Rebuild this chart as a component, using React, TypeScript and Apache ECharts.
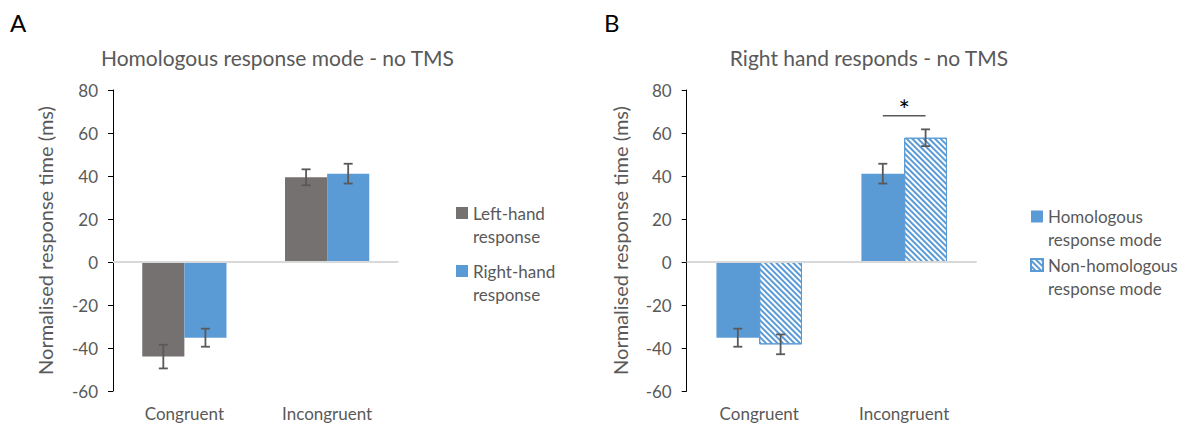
import React, { useEffect, useRef } from "react";
import * as echarts from "echarts";

// Conditions on the category axis
const categories = ["Congruent", "Incongruent"];

// Value axis range (ms)
const yMin = -60;
const yMax = 80;
const yStep = 20;

// Panel A: homologous response mode, no TMS
const leftHandMeans = [-44.0, 39.4];
const leftHandErrors = [5.5, 3.7];
const rightHandMeans = [-35.2, 41.1];
const rightHandErrors = [4.2, 4.6];

// Panel B: right hand responds, no TMS
const homologousMeans = [-35.2, 41.1];
const homologousErrors = [4.2, 4.6];
const nonHomologousMeans = [-38.3, 57.8];
const nonHomologousErrors = [4.6, 3.9];

// Height (ms) of the significance bracket over the Incongruent pair
const significanceLevel = 68;

const FONT = 'Lato, "Liberation Sans", Arial, sans-serif';
const TEXT = "#595959";
const GREY = "#767171";
const BLUE = "#5B9BD5";
const GAP = 0.41;

// Legend icon: a square at the top of a taller box (the trailing move-to only stretches the box),
// so the square lines up with the first line of the two-line label
const LEGEND_ICON = "path://M0,0L12,0L12,12L0,12Z M0,35";

const hatch = {
  symbol: "rect",
  symbolSize: 1,
  dashArrayX: [1, 0],
  dashArrayY: [2, 1.5],
  rotation: Math.PI / 4,
  color: BLUE,
  backgroundColor: "#ffffff",
};

function errorBars(axis: number, means: number[], errors: number[], slot: number) {
  return {
    type: "custom",
    xAxisIndex: axis,
    yAxisIndex: axis,
    silent: true,
    z: 5,
    data: means.map((m, i) => [i, m, errors[i]]),
    encode: { x: 0, y: 1 },
    renderItem: (_params: any, api: any) => {
      const i = api.value(0);
      const m = api.value(1);
      const e = api.value(2);
      const band = api.size([1, 0])[0];
      const barW = (band * (1 - GAP)) / 2;
      const cx = api.coord([i, m])[0] + (slot * barW) / 2;
      const yTop = api.coord([i, m + e])[1];
      const yBot = api.coord([i, m - e])[1];
      const cap = 4.5;
      const style = { stroke: TEXT, lineWidth: 1.8 };
      return {
        type: "group",
        children: [
          { type: "line", shape: { x1: cx, y1: yTop, x2: cx, y2: yBot }, style },
          { type: "line", shape: { x1: cx - cap, y1: yTop, x2: cx + cap, y2: yTop }, style },
          { type: "line", shape: { x1: cx - cap, y1: yBot, x2: cx + cap, y2: yBot }, style },
        ],
      };
    },
  };
}

function significance(axis: number, catIndex: number, level: number) {
  return {
    type: "custom",
    xAxisIndex: axis,
    yAxisIndex: axis,
    silent: true,
    z: 5,
    data: [[catIndex, level]],
    encode: { x: 0, y: 1 },
    renderItem: (_params: any, api: any) => {
      const band = api.size([1, 0])[0];
      const barW = (band * (1 - GAP)) / 2;
      const p = api.coord([api.value(0), api.value(1)]);
      return {
        type: "group",
        children: [
          {
            type: "line",
            shape: { x1: p[0] - barW / 2, y1: p[1], x2: p[0] + barW / 2, y2: p[1] },
            style: { stroke: TEXT, lineWidth: 1.5 },
          },
          {
            type: "text",
            x: p[0],
            y: p[1] - 20,
            style: {
              text: "*",
              fill: "#000",
              font: `27px ${FONT}`,
              textAlign: "center",
              textVerticalAlign: "top",
            },
          },
        ],
      };
    },
  };
}

const zeroLine = {
  silent: true,
  symbol: ["none", "none"],
  label: { show: false },
  lineStyle: { color: "#D9D9D9", width: 2, type: "solid" },
  data: [{ yAxis: 0 }],
};

function valueAxis(grid: number, nameGap: number) {
  return {
    type: "value",
    gridIndex: grid,
    min: yMin,
    max: yMax,
    interval: yStep,
    name: "Normalised response time (ms)",
    nameLocation: "middle",
    nameGap,
    nameTextStyle: { color: TEXT, fontSize: 20, fontFamily: FONT },
    axisLine: { show: true, lineStyle: { color: "#000", width: 1 } },
    axisTick: { show: true, inside: false, length: 5, lineStyle: { color: "#000" } },
    axisLabel: { color: TEXT, fontSize: 17, fontFamily: FONT, margin: 15 },
    splitLine: { show: false },
  };
}

function categoryAxis(grid: number) {
  return {
    type: "category",
    gridIndex: grid,
    data: categories,
    axisLine: { show: false, onZero: false },
    axisTick: { show: false },
    axisLabel: { color: TEXT, fontSize: 17, fontFamily: FONT, margin: 14 },
  };
}

function legend(left: number, top: number, gap: number, names: string[]) {
  return {
    orient: "vertical",
    left,
    top,
    padding: 0,
    itemGap: gap,
    itemWidth: 12,
    itemHeight: 35,
    icon: LEGEND_ICON,
    selectedMode: false,
    data: names,
    formatter: (name: string) => name.replace(" ", "\n"),
    textStyle: { color: TEXT, fontSize: 17, lineHeight: 23, fontFamily: FONT },
  };
}

export default function App() {
  const ref = useRef<HTMLDivElement>(null);

  useEffect(() => {
    if (!ref.current) return;
    const chart = echarts.init(ref.current, undefined, { renderer: "svg" });
    chart.setOption({
      animation: false,
      backgroundColor: "#ffffff",
      textStyle: { fontFamily: FONT },
      grid: [
        { left: 113, top: 90, width: 285.5, height: 301 },
        { left: 686.7, top: 90, width: 290, height: 301 },
      ],
      xAxis: [categoryAxis(0), categoryAxis(1)],
      yAxis: [valueAxis(0, 58), valueAxis(1, 57)],
      legend: [
        legend(456, 201.5, 12, ["Left-hand response", "Right-hand response"]),
        legend(1030, 205, 2.5, ["Homologous response mode", "Non-homologous response mode"]),
      ],
      graphic: [
        { type: "text", x: 10, y: 22, style: { text: "A", fill: "#000", font: `24px ${FONT}`, textVerticalAlign: "middle" } },
        { type: "text", x: 604, y: 22, style: { text: "B", fill: "#000", font: `24px ${FONT}`, textVerticalAlign: "middle" } },
        {
          type: "text",
          x: 277.5,
          y: 57,
          style: { text: "Homologous response mode - no TMS", fill: TEXT, font: `21px ${FONT}`, textAlign: "center", textVerticalAlign: "middle" },
        },
        {
          type: "text",
          x: 869,
          y: 57,
          style: { text: "Right hand responds - no TMS", fill: TEXT, font: `21px ${FONT}`, textAlign: "center", textVerticalAlign: "middle" },
        },
      ],
      series: [
        {
          name: "Left-hand response",
          type: "bar",
          xAxisIndex: 0,
          yAxisIndex: 0,
          data: leftHandMeans,
          barGap: "0%",
          barCategoryGap: "41%",
          itemStyle: { color: GREY },
          markLine: zeroLine,
        },
        {
          name: "Right-hand response",
          type: "bar",
          xAxisIndex: 0,
          yAxisIndex: 0,
          data: rightHandMeans,
          barGap: "0%",
          barCategoryGap: "41%",
          itemStyle: { color: BLUE },
        },
        {
          name: "Homologous response mode",
          type: "bar",
          xAxisIndex: 1,
          yAxisIndex: 1,
          data: homologousMeans,
          barGap: "0%",
          barCategoryGap: "41%",
          itemStyle: { color: BLUE },
          markLine: zeroLine,
        },
        {
          name: "Non-homologous response mode",
          type: "bar",
          xAxisIndex: 1,
          yAxisIndex: 1,
          data: nonHomologousMeans,
          barGap: "0%",
          barCategoryGap: "41%",
          itemStyle: { color: "#ffffff", borderColor: BLUE, borderWidth: 1, decal: hatch },
        },
        errorBars(0, leftHandMeans, leftHandErrors, -1),
        errorBars(0, rightHandMeans, rightHandErrors, 1),
        errorBars(1, homologousMeans, homologousErrors, -1),
        errorBars(1, nonHomologousMeans, nonHomologousErrors, 1),
        significance(1, 1, significanceLevel),
      ],
    });
    return () => chart.dispose();
  }, []);

  return (
    <div
      ref={ref}
      style={{ position: "fixed", left: 0, top: 0, width: 1190, height: 428, background: "#fff" }}
    />
  );
}
